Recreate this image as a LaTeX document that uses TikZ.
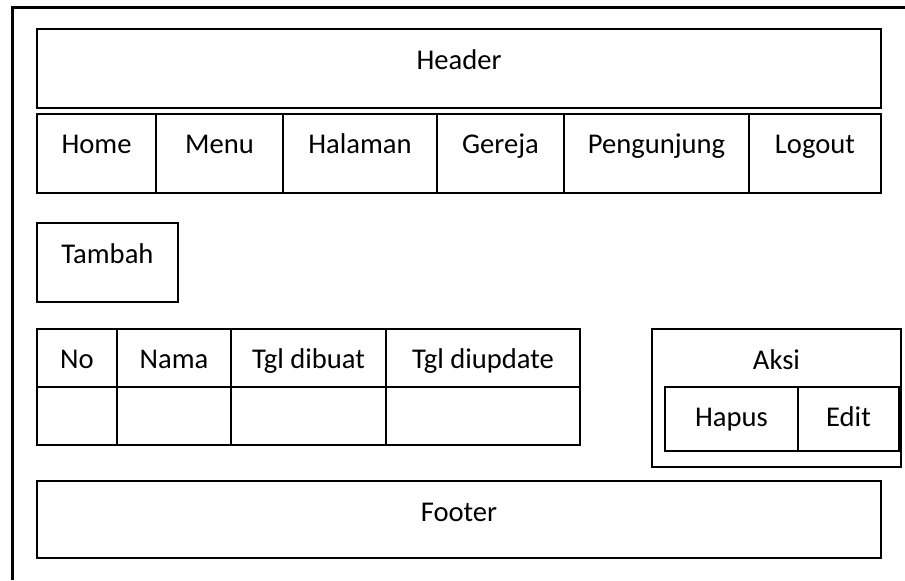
\documentclass[tikz,border=0pt]{standalone}
\usepackage{fontspec}
\setmainfont{Carlito}

\begin{document}
\begin{tikzpicture}[x=0.5pt,y=-0.5pt,line width=1pt,
  every node/.style={font=\fontsize{14.3}{17}\selectfont, inner sep=0pt, anchor=base}]

\useasboundingbox (0,0) rectangle (905,580);

% the page
\draw[line width=1.5pt] (12,580) -- (12,7) -- (905,7);

% the header
\draw (37,29) rectangle (881,108);
\node (header) at (459,69.5) {Header};

% the menu bar
\draw (37,114) rectangle (881,193);
\foreach \x in {156,283,437,564,749}
  \draw (\x,114) -- (\x,193);
\foreach \x/\name/\txt in {96.5/home/Home, 219.5/menu/Menu, 360/halaman/Halaman,
    500.5/gereja/Gereja, 656.5/pengunjung/Pengunjung, 815/logout/Logout}
  \node (\name) at (\x,153.5) {\txt};

% the add button
\draw (37,223) rectangle (178,302);
\node (tambah) at (107.5,263.5) {Tambah};

% the table
\draw (37,329) rectangle (580,445);
\draw (37,387) -- (580,387);
\foreach \x in {117,231,386}
  \draw (\x,329) -- (\x,445);
\foreach \x/\name/\txt in {77/no/No, 174/nama/Nama, 308.5/dibuat/Tgl dibuat,
    483/diupdate/Tgl diupdate}
  \node (\name) at (\x,368) {\txt};

% the actions
\draw (652,329) rectangle (901,467);
\draw (665,387) rectangle (899,451);
\draw (798,387) -- (798,451);
\node (aksi) at (776.5,369) {Aksi};
\node (hapus) at (731.5,426) {Hapus};
\node (edit) at (848.5,426) {Edit};

% the footer
\draw (37,481) rectangle (881,558);
\node (footer) at (459,521) {Footer};

\end{tikzpicture}
\end{document}
